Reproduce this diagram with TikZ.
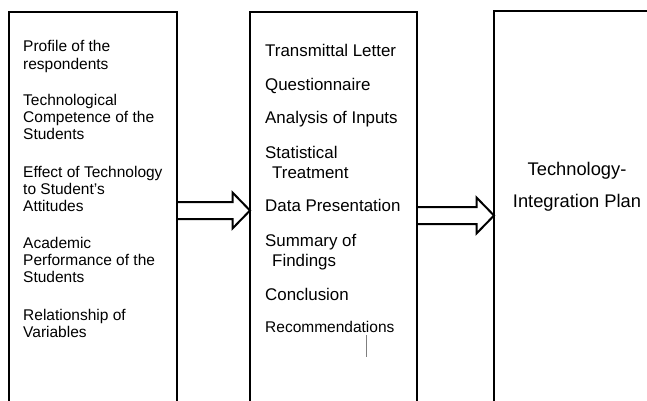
\documentclass[tikz,border=0pt]{standalone}
\usepackage{fontspec}
\setmainfont{Liberation Sans}
\usetikzlibrary{calc}
\definecolor{cursorgrau}{HTML}{7F7F7F}
\tikzset{
  panel/.style={draw=black,line width=2pt,inner sep=0pt,outer sep=0pt,anchor=north west,minimum height=450},
  itl/.style={anchor=north west,inner sep=0pt,align=left,font=\fontsize{15.5}{17.4}\selectfont},
  itm/.style={anchor=north west,inner sep=0pt,align=left,font=\fontsize{16.9}{20.5}\selectfont},
  plan/.style={anchor=north,inner sep=0pt,align=center,font=\fontsize{18.3}{32}\selectfont},
  blk/.style={draw=black,line width=2pt,line join=miter},
}
% hollow block arrow from #1 (tail) to #2 (tip)
\newcommand{\blkarrow}[2]{%
  \draw[blk] ($(#1)+(0,-8.5)$) -- ($(#2)+(-17.5,-8.5)$) -- ($(#2)+(-17.5,-18)$)
    -- (#2) -- ($(#2)+(-17.5,18)$) -- ($(#2)+(-17.5,8.5)$) -- ($(#1)+(0,8.5)$);}

\begin{document}
\begin{tikzpicture}[x=1pt,y=-1pt]
  \useasboundingbox (0,0) rectangle (647,400);
  \clip (0,0) rectangle (647,400);
  % the three panels, cut off at the bottom
  \node[panel,minimum width=168] (lbox) at (9,12) {};
  \node[panel,minimum width=167] (mbox) at (250,12) {};
  \node[panel,minimum width=250] (rbox) at (494,11) {};
  % input
  \node[itl] (prof) at (23,40.4) {Profile of the\\respondents};
  \node[itl] (comp) at (23,93.7) {Technological\\Competence of the\\Students};
  \node[itl] (eff) at (23,165.7) {Effect of Technology\\to Student’s\\Attitudes};
  \node[itl] (acad) at (23,236.7) {Academic\\Performance of the\\Students};
  \node[itl] (rel) at (23,308.7) {Relationship of\\Variables};
  % process
  \node[itm] (letter) at (265,44.4) {Transmittal Letter};
  \node[itm] (quest) at (265,77.7) {Questionnaire};
  \node[itm] (anal) at (265,111) {Analysis of Inputs};
  \node[itm] (stat) at (265,146) {Statistical\\\hspace*{7pt}Treatment};
  \node[itm] (data) at (265,199.4) {Data Presentation};
  \node[itm] (summ) at (265,233.7) {Summary of\\\hspace*{7pt}Findings};
  \node[itm] (concl) at (265,288.4) {Conclusion};
  \node[itl] (recom) at (265,321.4) {Recommendations};
  \draw[cursorgrau,line width=1pt] (366,335) -- (366,357);
  % output
  \node[plan] (tip) at (577,161.6) {Technology-\\Integration Plan};
  % arrows
  \coordinate (a1s) at (lbox.east |- 0,210.5);
  \coordinate (a1e) at (mbox.west |- 0,210.5);
  \coordinate (a2s) at (mbox.east |- 0,215.5);
  \coordinate (a2e) at (rbox.west |- 0,215.5);
  \blkarrow{a1s}{a1e}
  \blkarrow{a2s}{a2e}
\end{tikzpicture}
\end{document}
